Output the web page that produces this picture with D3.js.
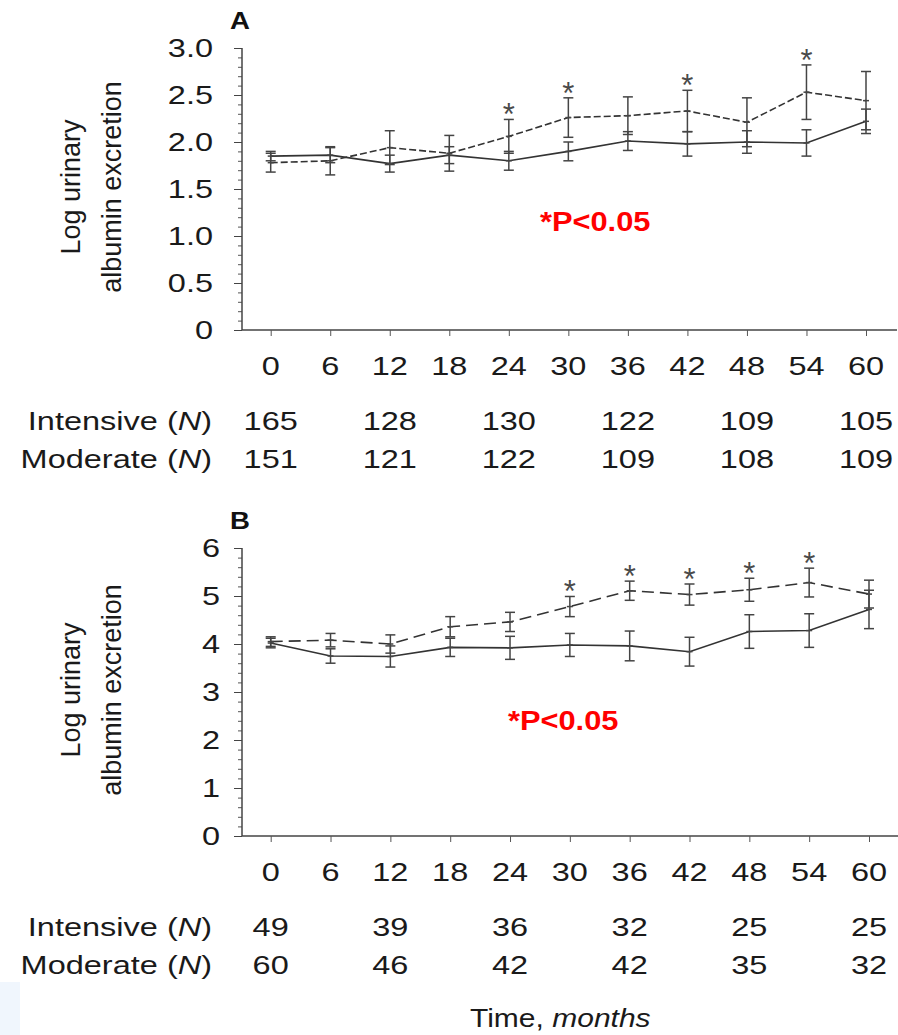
<!DOCTYPE html>
<html lang="en">
<head>
  <meta charset="UTF-8">
  <title>Urinary albumin excretion</title>
  <script src="https://d3js.org/d3.v7.min.js"></script>
  <style>
    body { margin: 0; background: #fff; }
    svg { display: block; font-family: "Liberation Sans", Arial, sans-serif; }
  </style>
</head>
<body>
<svg width="898" height="1035"></svg>
<script>
  // months on the x axis
  const months = [0, 6, 12, 18, 24, 30, 36, 42, 48, 54, 60]
  const nMonths = [0, 12, 24, 36, 48, 60]

  // panel A (dashed = moderate, solid = intensive)
  const modA = [1.78, 1.80, 1.94, 1.88, 2.06, 2.26, 2.28, 2.33, 2.21, 2.53, 2.44]
  const modAErr = [0.10, 0.15, 0.18, 0.19, 0.18, 0.21, 0.20, 0.22, 0.26, 0.29, 0.31]
  const intA = [1.85, 1.86, 1.77, 1.86, 1.80, 1.90, 2.01, 1.98, 2.00, 1.99, 2.22]
  const intAErr = [0.05, 0.08, 0.09, 0.09, 0.10, 0.10, 0.10, 0.13, 0.12, 0.14, 0.13]
  const starsA = [24, 30, 42, 54]
  const nIntA = [165, 128, 130, 122, 109, 105]
  const nModA = [151, 121, 122, 109, 108, 109]

  // panel B
  const modB = [4.05, 4.08, 4.00, 4.36, 4.46, 4.78, 5.11, 5.03, 5.13, 5.28, 5.04]
  const modBErr = [0.10, 0.14, 0.19, 0.21, 0.20, 0.21, 0.20, 0.22, 0.24, 0.30, 0.29]
  const intB = [4.02, 3.75, 3.74, 3.93, 3.92, 3.98, 3.96, 3.84, 4.26, 4.28, 4.72]
  const intBErr = [0.10, 0.15, 0.22, 0.19, 0.24, 0.24, 0.31, 0.30, 0.35, 0.35, 0.40]
  const starsB = [30, 36, 42, 48, 54]
  const nIntB = [49, 39, 36, 32, 25, 25]
  const nModB = [60, 46, 42, 42, 35, 32]

  const ticksA = [0, 0.5, 1.0, 1.5, 2.0, 2.5, 3.0]
  const ticksB = [0, 1, 2, 3, 4, 5, 6]

  const svg = d3.select("svg")
  const SX = 1.3 // the figure text is stretched sideways

  // faint blue shape bottom-left
  svg.append("rect").attr("x", 0).attr("y", 982).attr("width", 20).attr("height", 53)
    .attr("fill", "#f0f6fd")

  function stretchedText(g, x, y, txt, opts) {
    const t = g.append("text")
      .attr("transform", `translate(${x},${y}) scale(${opts.sx || SX},1)`)
      .attr("text-anchor", opts.anchor || "middle")
      .attr("font-size", opts.size || 25)
      .attr("fill", opts.fill || "#1a1a1a")
      .text(txt)
    if (opts.bold) t.attr("font-weight", "bold")
    return t
  }

  function drawPanel(p) {
    const g = svg.append("g")
    const x = d3.scaleLinear().domain([0, 60]).range([p.x0, p.x1])
    const y = d3.scaleLinear().domain([0, p.yMax]).range([p.bottom, p.top])
    const axisX = 242

    // panel letter
    stretchedText(g, 230, p.top - 19, p.label, { anchor: "start", size: 23, sx: 1.2, bold: true, fill: "#111" })

    // y axis: minor ticks then major ticks
    const yAxis = g.append("g").attr("transform", `translate(${axisX},0)`)
      .call(d3.axisLeft(y).tickValues(d3.range(0, p.yMax + 1e-9, p.minor)).tickSize(4).tickFormat(""))
    yAxis.select(".domain").remove()
    yAxis.selectAll("line").attr("stroke", "#555")
    const yMaj = g.append("g").attr("transform", `translate(${axisX},0)`)
      .call(d3.axisLeft(y).tickValues(p.ticks).tickSize(8).tickFormat(""))
    yMaj.select(".domain").attr("stroke", "#444").attr("stroke-width", 1.5).attr("d", `M0,${p.top}V${p.bottom}`)
    yMaj.selectAll("line").attr("stroke", "#444")

    p.ticks.forEach(v => {
      stretchedText(g, p.tickRight, y(v) + 9, p.fmt(v), { anchor: "end" })
    })

    // x axis
    g.append("line").attr("x1", axisX).attr("x2", p.axisEnd).attr("y1", p.bottom).attr("y2", p.bottom)
      .attr("stroke", "#444").attr("stroke-width", 1.5)
    const xAxis = g.append("g").attr("transform", `translate(0,${p.bottom})`)
      .call(d3.axisBottom(x).tickValues(months).tickSize(6).tickFormat(""))
    xAxis.select(".domain").remove()
    xAxis.selectAll("line").attr("stroke", "#555")
    months.forEach(m => stretchedText(g, x(m), p.bottom + 45, m, {}))

    // y label
    const yl = g.append("text").attr("font-size", 27).attr("fill", "#1a1a1a").attr("text-anchor", "middle")
    yl.append("tspan").attr("x", 0).attr("y", 0).text("Log urinary")
    yl.append("tspan").attr("x", 0).attr("y", 41).text("albumin excretion")
    yl.attr("transform", `translate(80,${p.labelY}) rotate(-90)`)

    // series
    const series = [
      { vals: p.mod, err: p.modErr, dash: p.dash },
      { vals: p.int, err: p.intErr, dash: null }
    ]
    series.forEach(s => {
      const pts = months.map((m, i) => ({ m, v: s.vals[i], e: s.err[i] }))
      const path = g.append("path").datum(pts)
        .attr("fill", "none").attr("stroke", "#333").attr("stroke-width", 1.6)
        .attr("d", d3.line().x(d => x(d.m)).y(d => y(d.v)))
      if (s.dash) path.attr("stroke-dasharray", s.dash)
      const eb = g.append("g").attr("stroke", "#444").attr("stroke-width", 1.5)
      eb.selectAll("line.v").data(pts).join("line")
        .attr("x1", d => x(d.m)).attr("x2", d => x(d.m))
        .attr("y1", d => y(d.v - d.e)).attr("y2", d => y(d.v + d.e))
      eb.selectAll("line.hi").data(pts).join("line")
        .attr("x1", d => x(d.m) - 5).attr("x2", d => x(d.m) + 5)
        .attr("y1", d => y(d.v + d.e)).attr("y2", d => y(d.v + d.e))
      eb.selectAll("line.lo").data(pts).join("line")
        .attr("x1", d => x(d.m) - 5).attr("x2", d => x(d.m) + 5)
        .attr("y1", d => y(d.v - d.e)).attr("y2", d => y(d.v - d.e))
      eb.selectAll("line.mid").data(pts).join("line")
        .attr("x1", d => x(d.m) - 3).attr("x2", d => x(d.m) + 3)
        .attr("y1", d => y(d.v)).attr("y2", d => y(d.v))
    })

    // significance stars
    p.stars.forEach(m => {
      const i = months.indexOf(m)
      g.append("text").attr("x", x(m)).attr("y", y(p.mod[i] + p.modErr[i]) + 6)
        .attr("text-anchor", "middle").attr("font-size", 31).attr("fill", "#4a4a4a").text("*")
    })

    // red note
    g.append("text").attr("transform", `translate(${p.noteX},${p.noteY}) scale(1.1,1)`)
      .attr("font-size", 28).attr("font-weight", "bold").attr("fill", "#ff0000").text("*P<0.05")

    // N table
    const rows = [["Intensive", p.nInt, p.bottom + 100], ["Moderate", p.nMod, p.bottom + 138]]
    rows.forEach(([name, ns, ty]) => {
      const t = stretchedText(g, 212, ty, "", { anchor: "end" })
      t.append("tspan").text(name + " (")
      t.append("tspan").attr("font-style", "italic").text("N")
      t.append("tspan").text(")")
      nMonths.forEach((m, i) => stretchedText(g, x(m), ty, ns[i], {}))
    })
  }

  drawPanel({
    label: "A", top: 48, bottom: 330, yMax: 3, ticks: ticksA, minor: 0.1,
    fmt: v => v === 0 ? "0" : v.toFixed(1), tickRight: 213,
    x0: 270.7, x1: 866, axisEnd: 897, labelY: 187,
    mod: modA, modErr: modAErr, int: intA, intErr: intAErr, dash: "7,3",
    stars: starsA, nInt: nIntA, nMod: nModA, noteX: 540, noteY: 231
  })
  drawPanel({
    label: "B", top: 548, bottom: 836, yMax: 6, ticks: ticksB, minor: 0.2,
    fmt: v => String(v), tickRight: 220,
    x0: 270.7, x1: 869, axisEnd: 898, labelY: 690,
    mod: modB, modErr: modBErr, int: intB, intErr: intBErr, dash: "12,6",
    stars: starsB, nInt: nIntB, nMod: nModB, noteX: 508, noteY: 730
  })

  // x title
  const xt = stretchedText(svg, 470, 1027, "Time, ", { anchor: "start", sx: 1.2 })
  xt.append("tspan").attr("font-style", "italic").text("months")
</script>
</body>
</html>
